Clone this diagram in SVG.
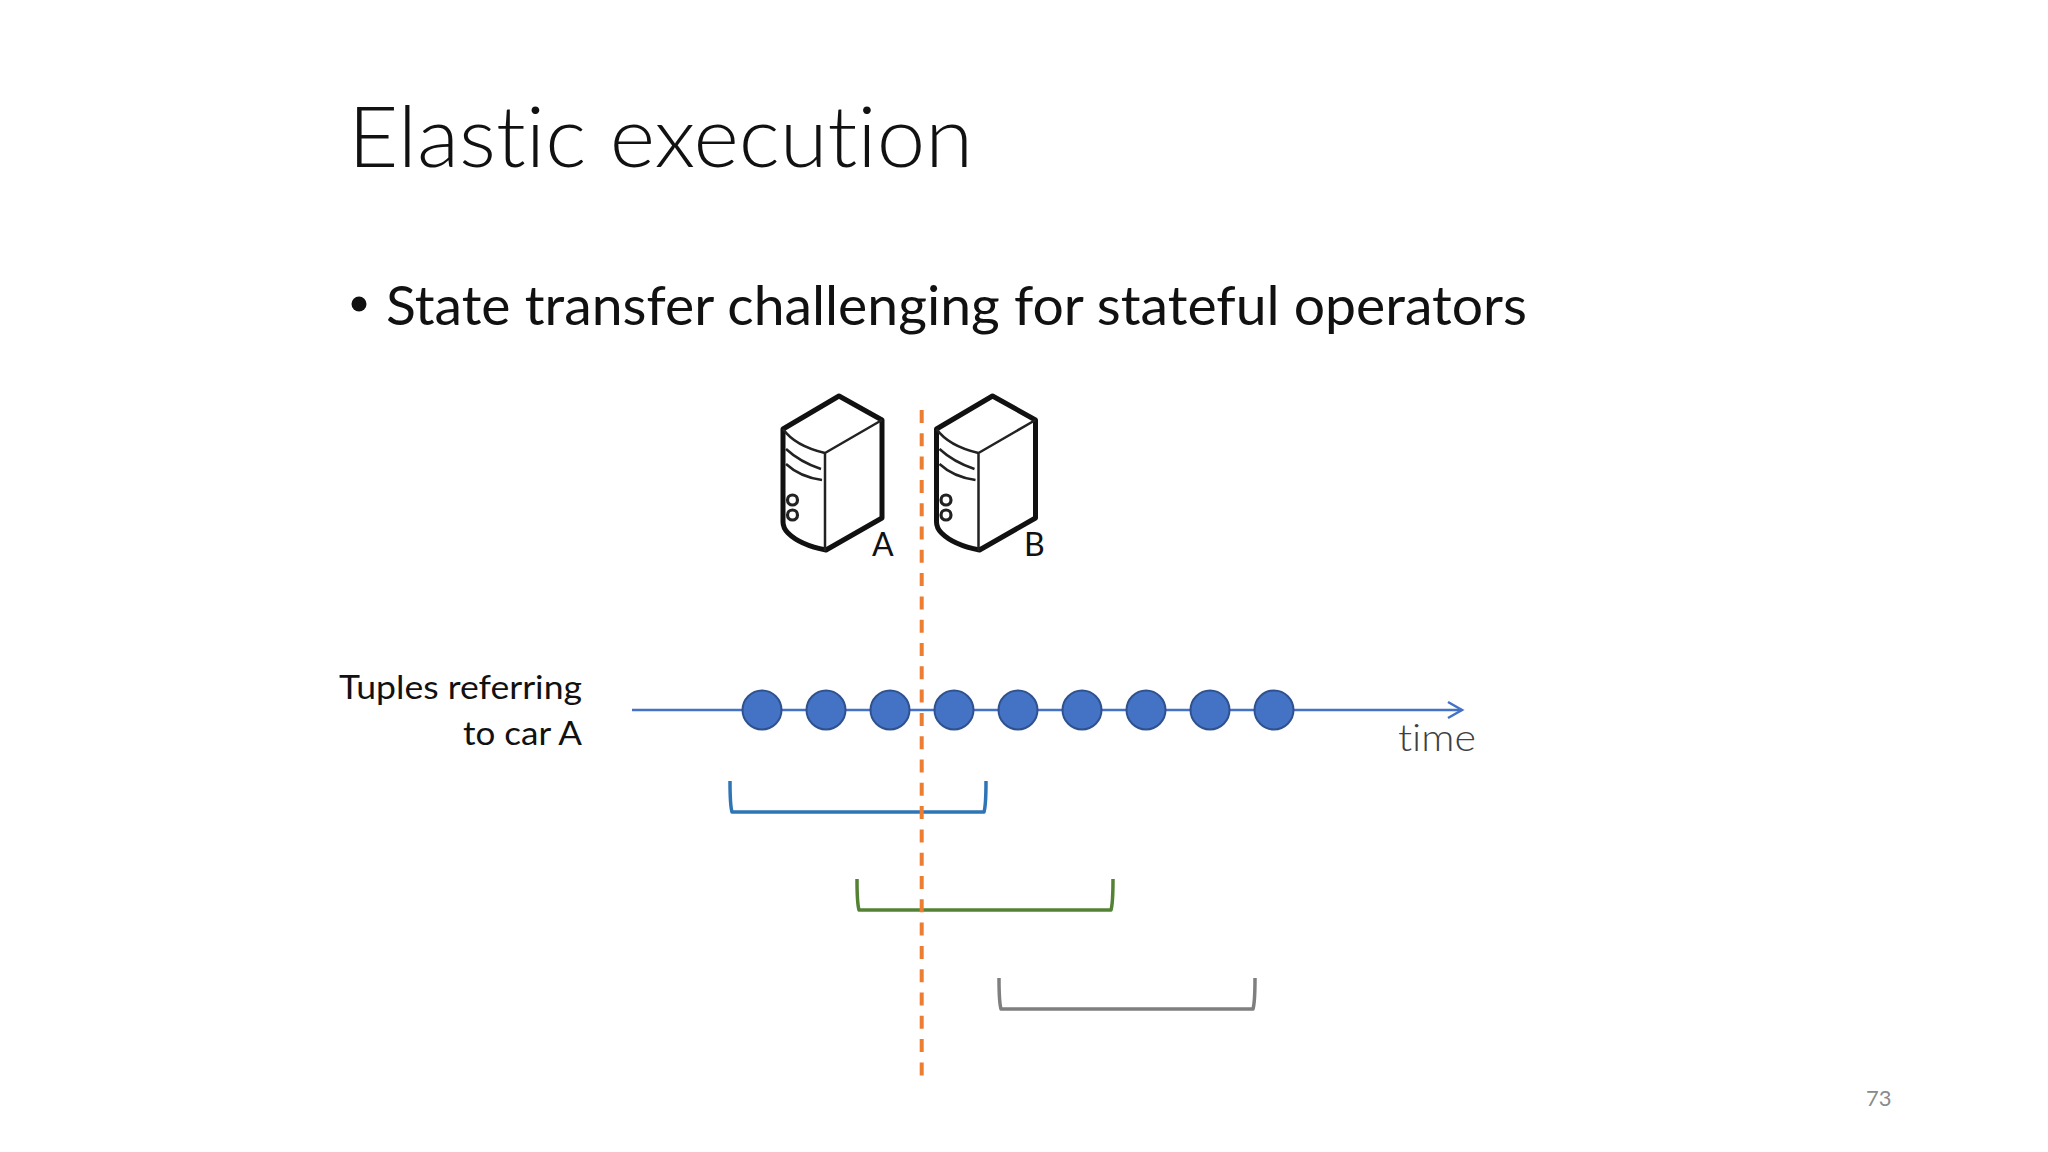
<svg xmlns="http://www.w3.org/2000/svg" width="2048" height="1152" viewBox="0 0 2048 1152">
<style>
text{font-family:Lato,"Open Sans",sans-serif;font-variant-ligatures:none}
.thin{fill:none;stroke:#222;stroke-width:2.5}
.ring{fill:none;stroke:#222;stroke-width:3.2}
.thick{fill:#fff;stroke:#111;stroke-width:5;stroke-linejoin:round}
.dot{fill:#4472c4;stroke:#2f528f;stroke-width:2}
.br{fill:none;stroke-width:3.5;stroke-linejoin:round}
.lab{font-size:32px;fill:#111}
</style>
<defs>
<g id="server">
<path class="thick" d="M783 429L839 396L882 420V518L826 550Q800 545 788 533Q783 528 783 522Z"/>
<path class="thin" d="M783 429Q795 446 825 453L882 420M825 453V551M786 449Q800 462 821 469M786 464Q800 477 822 480"/>
<circle class="ring" cx="792.5" cy="500" r="5"/>
<circle class="ring" cx="792.5" cy="515" r="5"/>
</g>
<marker id="arrow" markerUnits="userSpaceOnUse" markerWidth="18" markerHeight="20" refX="15" refY="10" orient="auto"><path d="M1 2L15 10L1 18" fill="none" stroke="#4472c4" stroke-width="2.5"/></marker>
</defs>
<rect width="2048" height="1152" fill="#fff"/>
<text id="title" x="348" y="167" font-size="84" font-weight="300" fill="#111" textLength="625" lengthAdjust="spacingAndGlyphs">Elastic execution</text>
<g id="bullet"><circle cx="359" cy="304" r="7.5" fill="#111"/><text x="386" y="325" font-size="55" fill="#111" textLength="1141" lengthAdjust="spacingAndGlyphs">State transfer challenging for stateful operators</text></g>
<g id="server-a"><use href="#server"/><text class="lab" x="872" y="556">A</text></g>
<g id="server-b"><use href="#server" x="153.5"/><text class="lab" x="1024" y="556">B</text></g>
<g id="connectors">
<line id="timeline" x1="632" y1="710" x2="1462" y2="710" stroke="#4472c4" stroke-width="2.5" marker-end="url(#arrow)"/>
<path class="br" stroke="#2e75b6" d="M730 781Q730 805 732 812H984Q986 805 986 781"/>
<path class="br" stroke="#548235" d="M857 879Q857 903 859 910H1111Q1113 903 1113 879"/>
<path class="br" stroke="#7f7f7f" d="M999 978Q999 1002 1001 1009H1253Q1255 1002 1255 978"/>
<line id="divider" x1="921.7" y1="410" x2="921.7" y2="1076" stroke="#ed7d31" stroke-width="4" stroke-dasharray="13 10.3"/>
</g>
<g id="tuples">
<circle class="dot" cx="762" cy="710" r="19.5"/><circle class="dot" cx="826" cy="710" r="19.5"/><circle class="dot" cx="890" cy="710" r="19.5"/><circle class="dot" cx="954" cy="710" r="19.5"/><circle class="dot" cx="1018" cy="710" r="19.5"/><circle class="dot" cx="1082" cy="710" r="19.5"/><circle class="dot" cx="1146" cy="710" r="19.5"/><circle class="dot" cx="1210" cy="710" r="19.5"/><circle class="dot" cx="1274" cy="710" r="19.5"/>
</g>
<g id="tuples-label"><text class="lab" x="339" y="699" textLength="243" lengthAdjust="spacingAndGlyphs">Tuples referring</text><text class="lab" x="463" y="745" textLength="119" lengthAdjust="spacingAndGlyphs">to car A</text></g>
<text id="time" x="1398" y="751" font-size="37" font-weight="300" fill="#404040" textLength="78" lengthAdjust="spacingAndGlyphs">time</text>
<text id="page" x="1866" y="1106" font-size="22" fill="#8a8a8a">73</text>
</svg>
